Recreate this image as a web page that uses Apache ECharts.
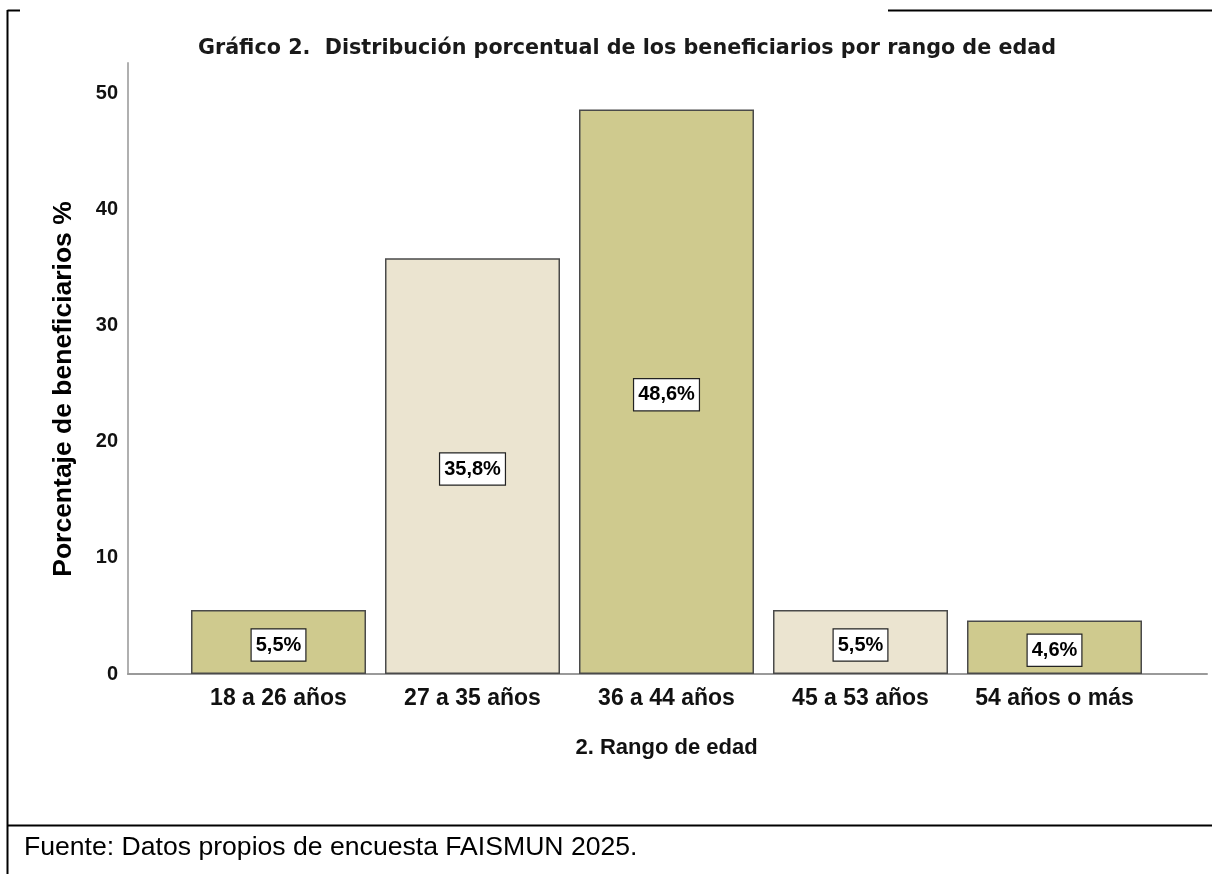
<!DOCTYPE html>
<html>
<head>
<meta charset="utf-8">
<script src="https://cdn.jsdelivr.net/npm/echarts@6/dist/echarts.min.js"></script>
<style>
  html, body { margin: 0; padding: 0; background: #fff; }
  #chart { width: 1212px; height: 874px; }
</style>
</head>
<body>
<div id="chart"></div>
<script>
// rangos de edad y porcentajes
const categories = ['18 a 26 años', '27 a 35 años', '36 a 44 años', '45 a 53 años', '54 años o más'];
const values = [5.5, 35.8, 48.6, 5.5, 4.6];
const barColors = ['#cfca8e', '#ebe4d0', '#cfca8e', '#ebe4d0', '#cfca8e'];
const yTicks = [0, 10, 20, 30, 40, 50];

const chart = echarts.init(document.getElementById('chart'));

const arial = 'Liberation Sans, Arial, sans-serif';

const option = {
    animation: false,
    backgroundColor: '#fff',
    title: [
        {
            text: 'Gráfico 2.  Distribución porcentual de los beneficiarios por rango de edad',
            left: 622, top: 33, textAlign: 'center',
            textStyle: { fontFamily: 'DejaVu Sans', fontSize: 20.7, fontWeight: 'bold', color: '#1a1a1a' }
        },
        {
            text: 'Fuente: Datos propios de encuesta FAISMUN 2025.',
            left: 19, top: 829,
            textStyle: { fontFamily: arial, fontSize: 26.6, fontWeight: 'normal', color: '#000' }
        }
    ],
    grid: [
        { left: 128, right: 5, top: 63, bottom: 200 },
        { left: 181.5, width: 970, top: 63, bottom: 200 }
    ],
    xAxis: [
        {
            type: 'value', gridIndex: 0, min: 0, max: 1,
            axisLine: { show: true, lineStyle: { color: '#9a9a9a', width: 2 } },
            axisTick: { show: false }, axisLabel: { show: false }, splitLine: { show: false }
        },
        {
            type: 'category', gridIndex: 1, data: categories,
            axisLine: { show: false }, axisTick: { show: false },
            axisLabel: { interval: 0, margin: 13, fontFamily: arial, fontSize: 23, fontWeight: 'bold', color: '#111' },
            name: '2. Rango de edad', nameLocation: 'middle', nameGap: 63,
            nameTextStyle: { fontFamily: arial, fontSize: 22, fontWeight: 'bold', color: '#111' }
        }
    ],
    yAxis: [
        {
            type: 'value', gridIndex: 0, min: 0, max: 52.6,
            axisLine: { show: true, lineStyle: { color: '#b0b0b0', width: 2 } },
            axisTick: { show: false }, splitLine: { show: false },
            axisLabel: {
                margin: 10, fontFamily: arial, fontSize: 20, fontWeight: 'bold', color: '#111',
                customValues: yTicks
            }
        },
        {
            type: 'value', gridIndex: 1, min: 0, max: 52.6, show: false
        }
    ],
    series: [
        {
            type: 'bar', xAxisIndex: 1, yAxisIndex: 1,
            barWidth: 175,
            data: values.map((v, i) => ({ value: v, itemStyle: { color: barColors[i] } })),
            itemStyle: { borderColor: '#4a4a4a', borderWidth: 1.5 },
            label: {
                show: true, position: 'inside', offset: [0, 3],
                formatter: p => String(p.value).replace('.', ',') + '%',
                fontFamily: arial, fontSize: 20, fontWeight: 'bold', color: '#000',
                backgroundColor: '#fff', borderColor: '#222', borderWidth: 1.2,
                padding: [6, 4, 5, 4]
            }
        }
    ],
    graphic: [
        // título del eje Y
        {
            type: 'text', x: 64, y: 389, rotation: Math.PI / 2,
            style: {
                text: 'Porcentaje de beneficiarios %', align: 'center', verticalAlign: 'middle',
                font: 'bold 26.5px Liberation Sans, Arial, sans-serif', fill: '#000'
            }
        },
        // marco de la tabla
        { type: 'line', shape: { x1: 7.5, y1: 10.5, x2: 20, y2: 10.5 }, style: { stroke: '#000', lineWidth: 2 } },
        { type: 'line', shape: { x1: 888, y1: 10.5, x2: 1212, y2: 10.5 }, style: { stroke: '#000', lineWidth: 2 } },
        { type: 'line', shape: { x1: 7.5, y1: 10, x2: 7.5, y2: 874 }, style: { stroke: '#000', lineWidth: 2 } },
        { type: 'line', shape: { x1: 7, y1: 825.5, x2: 1212, y2: 825.5 }, style: { stroke: '#000', lineWidth: 2 } }
    ]
};

chart.setOption(option);
</script>
</body>
</html>
